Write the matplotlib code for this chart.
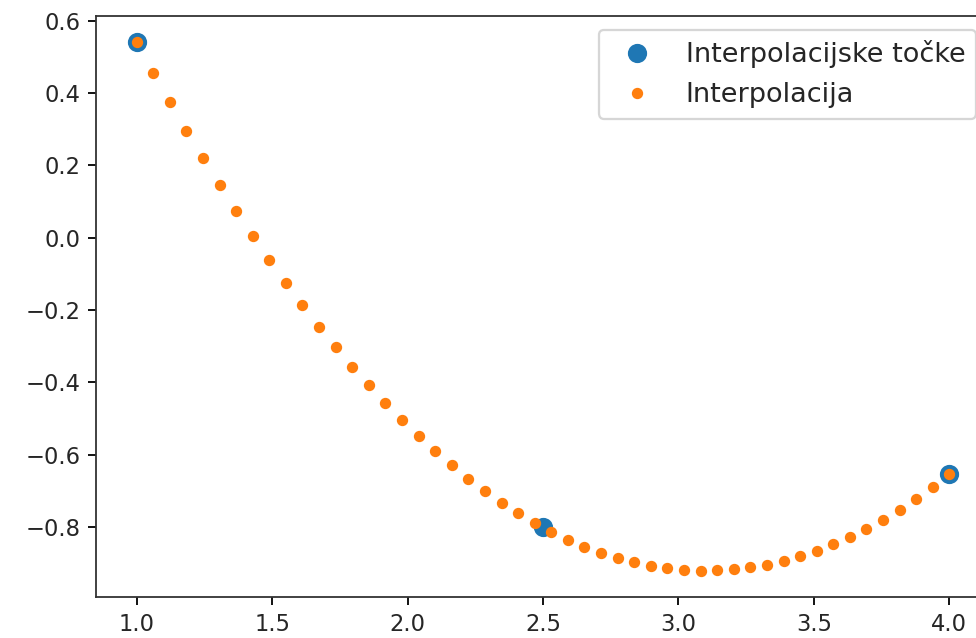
import matplotlib
matplotlib.use("Agg")
import matplotlib.pyplot as plt

# interpolation nodes
x_nodes = [1.0, 2.5, 4.0]
y_nodes = [0.5403, -0.8011, -0.6536]

# interpolated curve, 50 samples (x from 1 to 4)
n_samples = 50
x_interp = [1.0 + 3.0 * k / (n_samples - 1) for k in range(n_samples)]
y_interp = [
    0.5403, 0.4564, 0.3750, 0.2961, 0.2196, 0.1456, 0.0741, 0.0051,
    -0.0614, -0.1255, -0.1870, -0.2461, -0.3027, -0.3569, -0.4085, -0.4577,
    -0.5044, -0.5486, -0.5903, -0.6296, -0.6663, -0.7006, -0.7324, -0.7618,
    -0.7886, -0.8130, -0.8349, -0.8543, -0.8712, -0.8856, -0.8976, -0.9071,
    -0.9141, -0.9186, -0.9206, -0.9202, -0.9173, -0.9119, -0.9040, -0.8936,
    -0.8808, -0.8655, -0.8477, -0.8274, -0.8046, -0.7794, -0.7517, -0.7214,
    -0.6888, -0.6536,
]

DPI = 163
W, H = 977, 638
fig = plt.figure(figsize=(W / DPI, H / DPI), dpi=DPI)
# axes box in pixels: left 96, right ~990 (cropped), top 16, bottom 597
ax = fig.add_axes([96 / W, (H - 597) / H, (990 - 96) / W, (597 - 16) / H])

ax.plot(x_nodes, y_nodes, 'o', ms=7.5, label='Interpolacijske točke')
ax.plot(x_interp, y_interp, '.', ms=8, label='Interpolacija')
ax.tick_params(labelcolor='#262626')
for s in ax.spines.values():
    s.set_color('#333333')
leg = ax.legend(loc='upper right', fontsize=12)
for t in leg.get_texts():
    t.set_color('#262626')

fig.savefig("out.png", dpi=DPI)
